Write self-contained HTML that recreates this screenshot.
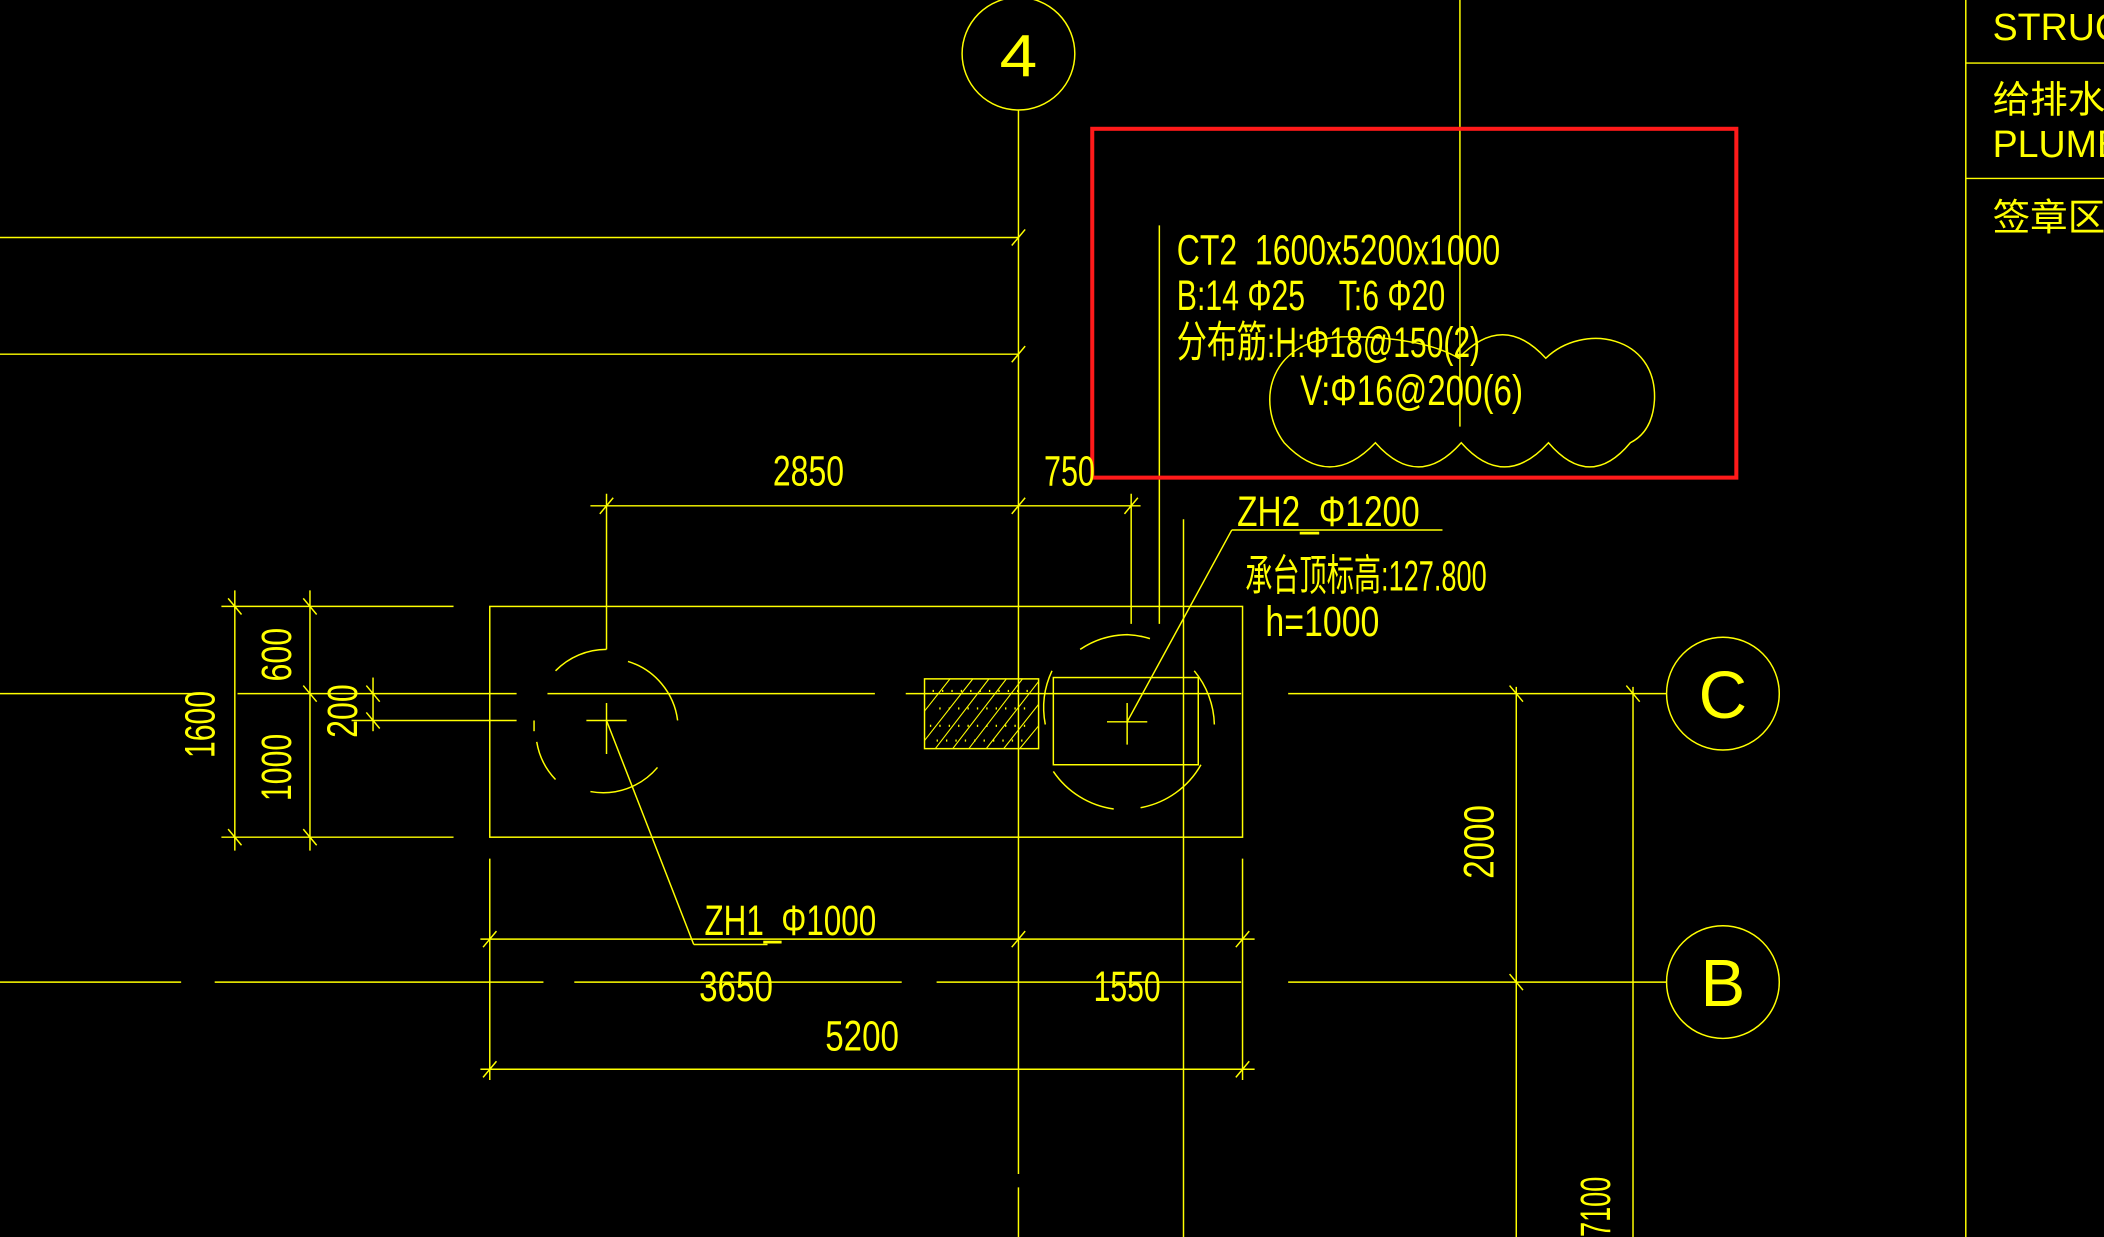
<!DOCTYPE html>
<html><head><meta charset="utf-8"><style>
html,body{margin:0;padding:0;background:#000;overflow:hidden}
svg{display:block}
text{font-family:"Liberation Sans","Noto Sans CJK SC",sans-serif;fill:#ffff00;font-weight:normal;white-space:pre}
</style></head><body>
<svg width="2104" height="1237" viewBox="0 0 1568 922" preserveAspectRatio="none" xmlns="http://www.w3.org/2000/svg">
<rect width="1568" height="922" fill="#000"/>
<g stroke="#ffff00" stroke-width="1.1" fill="none">
<circle cx="759" cy="40" r="42"/>
<line x1="759" y1="82" x2="759" y2="875"/><line x1="759" y1="885" x2="759" y2="922"/>
<line x1="1088" y1="0" x2="1088" y2="318"/>
<line x1="0" y1="177" x2="759" y2="177"/><line x1="754" y1="183" x2="764" y2="171"/>
<line x1="0" y1="264" x2="759" y2="264"/><line x1="754" y1="270" x2="764" y2="258"/>
<line x1="864" y1="168" x2="864" y2="465"/>
<!-- cloud -->
<path d="M957,330 C935,300 945,251 1005,251 C1045,251 1072,258 1087,267 Q1120,232 1152,267 C1180,240 1235,250 1233,298 C1232,315 1225,325 1215,330 Q1185,366 1154,330 Q1121,366 1089,330 Q1057,366 1025,330 Q991,366 957,330 Z"/>
<line x1="440" y1="377" x2="850" y2="377"/>
<line x1="452" y1="368" x2="452" y2="484"/>
<line x1="843" y1="368" x2="843" y2="465"/>
<line x1="447" y1="383" x2="457" y2="371"/><line x1="754" y1="383" x2="764" y2="371"/><line x1="838" y1="383" x2="848" y2="371"/>
<line x1="918" y1="395" x2="1075" y2="395"/>
<line x1="918" y1="395" x2="840" y2="538"/>
<line x1="882" y1="387" x2="882" y2="922"/>
<rect x="365" y="452" width="561" height="172"/>
<line x1="0" y1="517" x2="155" y2="517"/><line x1="177" y1="517" x2="385" y2="517"/><line x1="408" y1="517" x2="652" y2="517"/><line x1="675" y1="517" x2="925" y2="517"/><line x1="960" y1="517" x2="1242" y2="517"/>
<circle cx="1284" cy="517" r="42"/>
<line x1="0" y1="732" x2="135" y2="732"/><line x1="160" y1="732" x2="405" y2="732"/><line x1="428" y1="732" x2="672" y2="732"/><line x1="698" y1="732" x2="925" y2="732"/><line x1="960" y1="732" x2="1242" y2="732"/>
<circle cx="1284" cy="732" r="42"/>
<line x1="175" y1="440" x2="175" y2="634"/><line x1="231" y1="440" x2="231" y2="634"/>
<line x1="165" y1="452" x2="338" y2="452"/><line x1="165" y1="624" x2="338" y2="624"/>
<line x1="170" y1="446" x2="180" y2="458"/><line x1="226" y1="446" x2="236" y2="458"/>
<line x1="170" y1="618" x2="180" y2="630"/><line x1="226" y1="618" x2="236" y2="630"/>
<line x1="226" y1="511" x2="236" y2="523"/>
<line x1="278" y1="505" x2="278" y2="545"/>
<line x1="273" y1="511" x2="283" y2="523"/><line x1="273" y1="531" x2="283" y2="543"/>
<line x1="262" y1="537" x2="385" y2="537"/>
<path d="M452,484 A53,53 0 0 0 414,500" /><path d="M468,493 A53,53 0 0 1 505,537"/>
<path d="M400,553 A53,53 0 0 0 414,581"/><path d="M440,590 A53,53 0 0 0 490,572"/><path d="M398,537 L398,545"/>
<line x1="437" y1="537" x2="467" y2="537"/><line x1="452" y1="524" x2="452" y2="562"/>
<line x1="452" y1="537" x2="517" y2="704"/><line x1="517" y1="704" x2="572" y2="704"/>
<path d="M805,484 A65,65 0 0 1 840,473 A65,65 0 0 1 857,476"/>
<path d="M890,500 A65,65 0 0 1 905,540"/>
<path d="M785,575 A65,65 0 0 0 830,603"/><path d="M850,602 A65,65 0 0 0 895,570"/>
<path d="M779,540 A65,65 0 0 1 784,500"/>
<rect x="785" y="505" width="108" height="65"/>
<line x1="825" y1="538" x2="855" y2="538"/><line x1="840" y1="524" x2="840" y2="555"/>
<rect x="689" y="506" width="85" height="52"/>
<g stroke-width="0.8">
<line x1="689" y1="530" x2="708" y2="506"/><line x1="689" y1="552" x2="725" y2="506"/><line x1="697" y1="558" x2="737" y2="506"/><line x1="710" y1="558" x2="750" y2="506"/><line x1="722" y1="558" x2="762" y2="506"/><line x1="735" y1="558" x2="774" y2="508"/><line x1="748" y1="558" x2="774" y2="525"/><line x1="760" y1="558" x2="774" y2="541"/>
</g>
<g stroke-width="1.6" stroke-dasharray="1 6">
<line x1="695" y1="515" x2="770" y2="515"/><line x1="700" y1="528" x2="768" y2="528"/><line x1="693" y1="541" x2="770" y2="541"/><line x1="698" y1="552" x2="768" y2="552"/>
</g>
<line x1="365" y1="640" x2="365" y2="805"/><line x1="926" y1="640" x2="926" y2="805"/>
<line x1="358" y1="700" x2="935" y2="700"/>
<line x1="360" y1="706" x2="370" y2="694"/><line x1="754" y1="706" x2="764" y2="694"/><line x1="921" y1="706" x2="931" y2="694"/>
<line x1="358" y1="797" x2="935" y2="797"/>
<line x1="360" y1="803" x2="370" y2="791"/><line x1="921" y1="803" x2="931" y2="791"/>
<line x1="1130" y1="512" x2="1130" y2="922"/><line x1="1217" y1="512" x2="1217" y2="922"/>
<line x1="1125" y1="511" x2="1135" y2="523"/><line x1="1212" y1="511" x2="1222" y2="523"/><line x1="1125" y1="726" x2="1135" y2="738"/>
<line x1="1465" y1="0" x2="1465" y2="922"/>
<line x1="1465" y1="47" x2="1568" y2="47"/><line x1="1465" y1="133" x2="1568" y2="133"/>
</g>
<rect x="814" y="96" width="480" height="260" fill="none" stroke="#ff1a1a" stroke-width="3"/>
<text x="759" y="57" font-size="44" text-anchor="middle" textLength="28" lengthAdjust="spacingAndGlyphs">4</text>
<text x="1284" y="535" font-size="50" text-anchor="middle">C</text>
<text x="1284" y="750" font-size="50" text-anchor="middle">B</text>
<g font-size="32">
<text x="877" y="197" textLength="241" lengthAdjust="spacingAndGlyphs">CT2  1600x5200x1000</text>
<text x="877" y="231" textLength="200" lengthAdjust="spacingAndGlyphs">B:14 Φ25    T:6 Φ20</text>
<text x="877" y="266" textLength="226" lengthAdjust="spacingAndGlyphs">分布筋:H:Φ18@150(2)</text>
<text x="969" y="302" textLength="166" lengthAdjust="spacingAndGlyphs">V:Φ16@200(6)</text>
<text x="576" y="362" textLength="53" lengthAdjust="spacingAndGlyphs">2850</text>
<text x="778" y="362" textLength="38" lengthAdjust="spacingAndGlyphs">750</text>
<text x="922" y="392" textLength="136" lengthAdjust="spacingAndGlyphs">ZH2_Φ1200</text>
<text x="928" y="440" textLength="180" lengthAdjust="spacingAndGlyphs">承台顶标高:127.800</text>
<text x="943" y="474" textLength="85" lengthAdjust="spacingAndGlyphs">h=1000</text>
<text x="525" y="697" textLength="128" lengthAdjust="spacingAndGlyphs">ZH1_Φ1000</text>
<text x="521" y="746" textLength="55" lengthAdjust="spacingAndGlyphs">3650</text>
<text x="815" y="746" textLength="50" lengthAdjust="spacingAndGlyphs">1550</text>
<text x="615" y="783" textLength="55" lengthAdjust="spacingAndGlyphs">5200</text>
<text transform="translate(160,565) rotate(-90)" textLength="50" lengthAdjust="spacingAndGlyphs">1600</text>
<text transform="translate(217,508) rotate(-90)" textLength="40" lengthAdjust="spacingAndGlyphs">600</text>
<text transform="translate(217,597) rotate(-90)" textLength="50" lengthAdjust="spacingAndGlyphs">1000</text>
<text transform="translate(266,550) rotate(-90)" textLength="40" lengthAdjust="spacingAndGlyphs">200</text>
<text transform="translate(1113,655) rotate(-90)" textLength="55" lengthAdjust="spacingAndGlyphs">2000</text>
<text transform="translate(1200,922) rotate(-90)" textLength="45" lengthAdjust="spacingAndGlyphs">7100</text>
</g>
<g font-size="28">
<text x="1485" y="30">STRUC</text>
<text x="1485" y="84">给排水</text>
<text x="1485" y="117">PLUMB</text>
<text x="1485" y="172">签章区</text>
</g>
</svg>
</body></html>
